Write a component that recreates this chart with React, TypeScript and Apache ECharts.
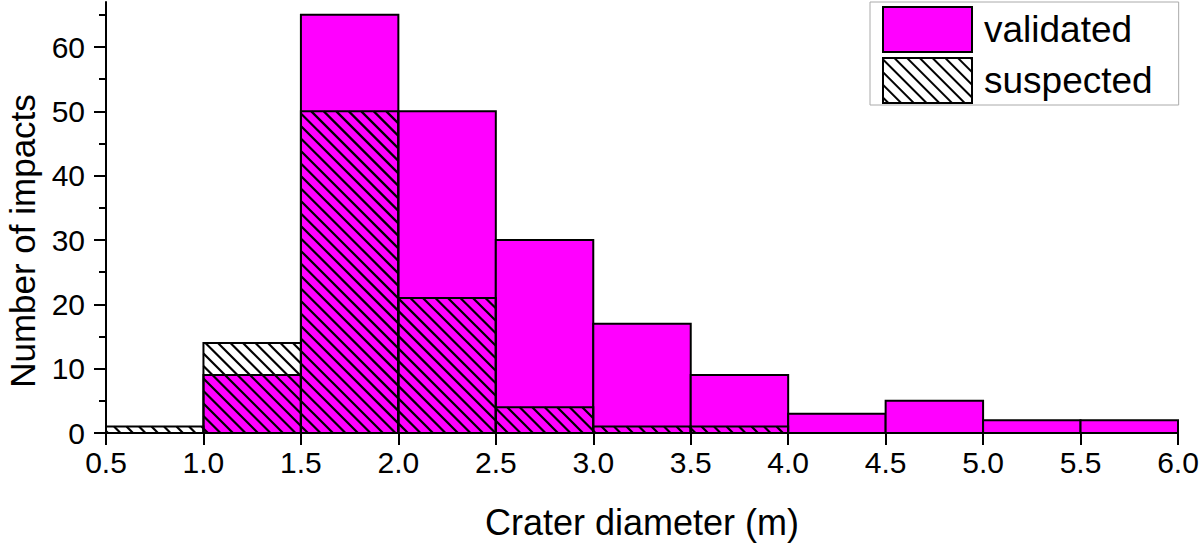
import React, { useEffect, useRef } from "react";
import * as echarts from "echarts";

const binStarts = [0.5, 1.0, 1.5, 2.0, 2.5, 3.0, 3.5, 4.0, 4.5, 5.0, 5.5];
const binWidth = 0.5;
const validated = [0, 9, 65, 50, 30, 17, 9, 3, 5, 2, 2];
const suspected = [1, 14, 50, 21, 4, 1, 1, 0, 0, 0, 0];
const yMajorTicks = [0, 10, 20, 30, 40, 50, 60];
const yMinorTicks = [5, 15, 25, 35, 45, 55, 65];

const FONT = "'Liberation Sans', Arial, sans-serif";
const MAGENTA = "#ff00ff";
const HATCH_SPACING = 12.5;

function hatchLines(xa: number, xb: number, ya: number, yb: number) {
  const out: any[] = [];
  const s = HATCH_SPACING;
  const kStart = Math.ceil((xa - yb) / s);
  const kEnd = Math.floor((xb - ya) / s);
  for (let k = kStart; k <= kEnd; k++) {
    const d = k * s;
    const ylo = Math.max(ya, xa - d);
    const yhi = Math.min(yb, xb - d);
    if (yhi - ylo > 0.3) {
      out.push({
        type: "line",
        shape: { x1: ylo + d, y1: ylo, x2: yhi + d, y2: yhi },
        style: { stroke: "#000", lineWidth: 2.2 },
        silent: true,
      });
    }
  }
  return out;
}

export default function App() {
  const ref = useRef<HTMLDivElement>(null);

  useEffect(() => {
    if (!ref.current) return;
    const chart = echarts.init(ref.current, undefined, { renderer: "svg" });

    const validatedData = binStarts.map((s, i) => [s, s + binWidth, validated[i]]);
    const suspectedData = binStarts.map((s, i) => [s, s + binWidth, suspected[i]]);

    const option: any = {
      animation: false,
      backgroundColor: "#fff",
      textStyle: { fontFamily: FONT },
      grid: {
        left: 106,
        right: 22,
        top: 2,
        bottom: 111,
        containLabel: false,
        outerBoundsMode: "none",
      },
      legend: {
        orient: "vertical",
        left: 870,
        top: 2,
        padding: [4, 26, 1, 12],
        itemGap: 4,
        itemWidth: 89,
        itemHeight: 45,
        borderColor: "#aaa",
        borderWidth: 1,
        backgroundColor: "#fff",
        textStyle: { fontSize: 37, color: "#000", fontFamily: FONT, padding: [0, 0, 0, 7] },
        data: [
          {
            name: "validated",
            icon: "rect",
            itemStyle: { color: MAGENTA, borderColor: "#000", borderWidth: 2 },
          },
          {
            name: "suspected",
            icon: "rect",
            itemStyle: {
              color: "#fff",
              borderColor: "#000",
              borderWidth: 2,
              decal: {
                symbol: "rect",
                symbolSize: 1,
                dashArrayX: [1, 0],
                dashArrayY: [2, 7],
                rotation: Math.PI / 4,
                color: "#000",
                backgroundColor: "#fff",
              },
            },
          },
        ],
      },
      xAxis: {
        type: "value",
        min: 0.5,
        max: 6,
        interval: 0.5,
        name: "Crater diameter (m)",
        nameLocation: "middle",
        nameGap: 71,
        nameTextStyle: { fontSize: 36, color: "#000", fontFamily: FONT },
        axisLine: { show: true, onZero: false, lineStyle: { color: "#000", width: 2 } },
        axisTick: { show: true, length: 12, lineStyle: { color: "#000", width: 2 } },
        axisLabel: {
          fontSize: 30,
          color: "#000",
          fontFamily: FONT,
          margin: 14,
          formatter: (v: number) => v.toFixed(1),
        },
        splitLine: { show: false },
      },
      yAxis: [
        {
          type: "value",
          position: "left",
          min: 0,
          max: 67,
          name: "Number of impacts",
          nameLocation: "middle",
          nameGap: 66,
          nameTextStyle: { fontSize: 35, color: "#000", fontFamily: FONT, padding: [0, 47, 0, 0] },
          axisLine: { show: true, onZero: false, lineStyle: { color: "#000", width: 2 } },
          axisTick: {
            show: true,
            length: 12,
            customValues: yMajorTicks,
            lineStyle: { color: "#000", width: 2 },
          },
          axisLabel: {
            fontSize: 30,
            color: "#000",
            fontFamily: FONT,
            margin: 21,
            customValues: yMajorTicks,
          },
          splitLine: { show: false },
        },
        {
          type: "value",
          position: "left",
          offset: 0,
          min: 0,
          max: 67,
          axisLine: { show: false },
          axisTick: {
            show: true,
            length: 7,
            customValues: yMinorTicks,
            lineStyle: { color: "#000", width: 2 },
          },
          axisLabel: { show: false },
          splitLine: { show: false },
        },
      ],
      series: [
        {
          name: "validated",
          type: "custom",
          itemStyle: { color: MAGENTA },
          encode: { x: [0, 1], y: 2 },
          data: validatedData,
          z: 2,
          renderItem: (params: any, api: any) => {
            const x0 = api.value(0);
            const x1 = api.value(1);
            const v = api.value(2);
            if (!v) return null;
            const p0 = api.coord([x0, 0]);
            const p1 = api.coord([x1, v]);
            return {
              type: "rect",
              shape: { x: p0[0], y: p1[1], width: p1[0] - p0[0], height: p0[1] - p1[1] },
              style: { fill: MAGENTA, stroke: "#000", lineWidth: 2 },
            };
          },
        },
        {
          name: "suspected",
          type: "custom",
          itemStyle: { color: "#fff" },
          encode: { x: [0, 1], y: 2 },
          data: suspectedData,
          z: 3,
          renderItem: (params: any, api: any) => {
            const x0 = api.value(0);
            const x1 = api.value(1);
            const v = api.value(2);
            if (!v) return null;
            const p0 = api.coord([x0, 0]);
            const p1 = api.coord([x1, v]);
            const xa = p0[0];
            const xb = p1[0];
            const ya = p1[1];
            const yb = p0[1];
            return {
              type: "group",
              children: [
                ...hatchLines(xa, xb, ya, yb),
                {
                  type: "rect",
                  shape: { x: xa, y: ya, width: xb - xa, height: yb - ya },
                  style: { fill: "none", stroke: "#000", lineWidth: 2 },
                },
              ],
            };
          },
        },
      ],
    };

    chart.setOption(option);
    return () => chart.dispose();
  }, []);

  return (
    <div
      ref={ref}
      style={{ position: "fixed", left: 0, top: 0, width: 1200, height: 544, background: "#fff" }}
    />
  );
}
